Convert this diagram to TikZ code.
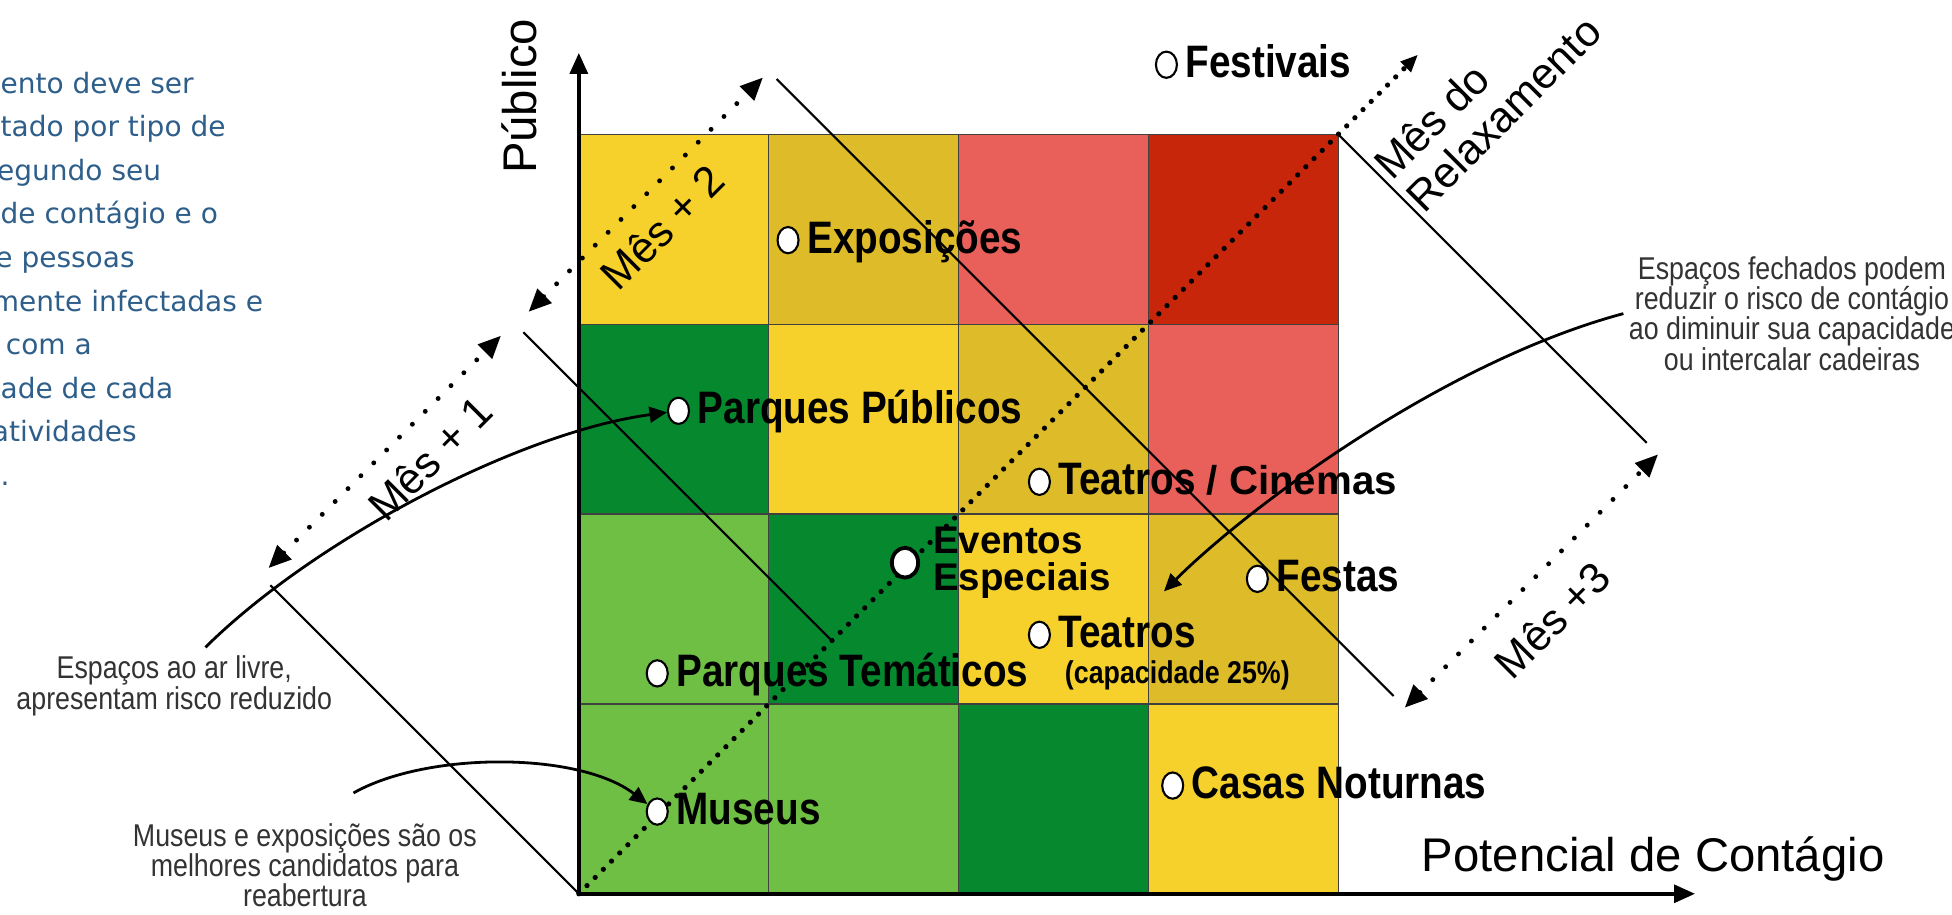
\documentclass[tikz,border=0pt]{standalone}
\usepackage{fontspec}
\setmainfont{Liberation Sans}
\newfontfamily\narrowfont[FakeStretch=0.85]{Liberation Sans}
\newfontfamily\introfont{DejaVu Sans}
\usetikzlibrary{arrows.meta,positioning,shapes.geometric}

\definecolor{cellYellow}{RGB}{246,209,43}
\definecolor{cellOlive}{RGB}{222,188,41}
\definecolor{cellSalmon}{RGB}{233,96,90}
\definecolor{cellRed}{RGB}{200,38,11}
\definecolor{cellDGreen}{RGB}{6,136,47}
\definecolor{cellLGreen}{RGB}{111,191,68}
\definecolor{introBlue}{RGB}{46,94,138}

\begin{document}
\begin{tikzpicture}[x=1.906cm,y=1.906cm,
    spot/.style={ellipse,draw=black,fill=white,line width=0.6pt,minimum width=6pt,minimum height=7.5pt,inner sep=0pt},
    bigspot/.style={spot,line width=1.1pt,minimum width=7.5pt,minimum height=8.5pt},
    lbl/.style={inner sep=0pt,text height=1.4ex,text depth=0pt,font=\narrowfont\bfseries\fontsize{13}{15}\selectfont},
    evlbl/.style={inner sep=0pt,align=left,font=\bfseries\fontsize{11}{10.5}\selectfont},
    capnote/.style={inner sep=0pt,font=\narrowfont\bfseries\fontsize{9}{11}\selectfont},
    mes/.style={inner sep=0pt,font=\fontsize{12.3}{13}\selectfont},
    axlbl/.style={inner sep=0pt,font=\fontsize{13.5}{15}\selectfont},
    note/.style={inner sep=0pt,align=center,text=black!80,font=\narrowfont\fontsize{9}{8.6}\selectfont},
    intro/.style={inner sep=0pt,align=left,text=introBlue,font=\introfont\fontsize{8}{12.45}\selectfont},
    cellline/.style={line width=0.4pt,black!75},
    thinline/.style={line width=0.6pt},
    axis/.style={line width=1.2pt,-{Triangle[length=6pt,width=5pt]}},
    mesarrow/.style={line width=1.4pt,line cap=round,dash pattern=on 0pt off 5.2pt,{Triangle[length=6.5pt,width=5.5pt]}-{Triangle[length=6.5pt,width=5.5pt]}},
    diagline/.style={line width=1.5pt,line cap=round,dash pattern=on 0pt off 3.3pt,-{Triangle[length=5pt,width=4pt]}},
    callout/.style={line width=0.8pt,-{Triangle[length=5pt,width=4.5pt]}}]
    \fill[white] (-3.049,-0.111) rectangle (7.233,4.708);
    \useasboundingbox (-3.049,-0.111) rectangle (7.233,4.708);

    % risk matrix
    \fill[cellYellow] (0,3) rectangle (1,4);
    \fill[cellOlive] (1,3) rectangle (2,4);
    \fill[cellSalmon] (2,3) rectangle (3,4);
    \fill[cellRed] (3,3) rectangle (4,4);
    \fill[cellDGreen] (0,2) rectangle (1,3);
    \fill[cellYellow] (1,2) rectangle (2,3);
    \fill[cellOlive] (2,2) rectangle (3,3);
    \fill[cellSalmon] (3,2) rectangle (4,3);
    \fill[cellLGreen] (0,1) rectangle (1,2);
    \fill[cellDGreen] (1,1) rectangle (2,2);
    \fill[cellYellow] (2,1) rectangle (3,2);
    \fill[cellOlive] (3,1) rectangle (4,2);
    \fill[cellLGreen] (0,0) rectangle (1,1);
    \fill[cellLGreen] (1,0) rectangle (2,1);
    \fill[cellDGreen] (2,0) rectangle (3,1);
    \fill[cellYellow] (3,0) rectangle (4,1);
    \draw[cellline] (0,0) rectangle (4,4);
    \draw[cellline] (1,0) -- (1,4);
    \draw[cellline] (2,0) -- (2,4);
    \draw[cellline] (3,0) -- (3,4);
    \draw[cellline] (0,1) -- (4,1);
    \draw[cellline] (0,2) -- (4,2);
    \draw[cellline] (0,3) -- (4,3);

    \coordinate (o) at (0,0);
    \coordinate (yTip) at (0,4.43);
    \coordinate (xTip) at (5.88,0);
    \coordinate (diagTip) at (4.42,4.42);
    \coordinate (aTop) at (-1.625,1.625);
    \coordinate (bTop) at (-0.292,2.958);
    \coordinate (bEnd) at (1.333,1.333);
    \coordinate (cTop) at (1.042,4.292);
    \coordinate (cEnd) at (4.292,1.042);
    \coordinate (dTop) at (4,4);
    \coordinate (dEnd) at (5.625,2.375);
    \coordinate (m1a) at (-1.635,1.715);
    \coordinate (m1b) at (-0.41,2.94);
    \coordinate (m2a) at (-0.265,3.065);
    \coordinate (m2b) at (0.97,4.30);
    \coordinate (m3a) at (4.35,0.98);
    \coordinate (m3b) at (5.685,2.315);

    % month limits
    \draw[thinline] (aTop) -- (o);
    \draw[thinline] (bTop) -- (bEnd);
    \draw[thinline] (cTop) -- (cEnd);
    \draw[thinline] (dTop) -- (dEnd);
    \draw[diagline] (o) -- (diagTip);
    \draw[mesarrow] (m1a) -- (m1b);
    \draw[mesarrow] (m2a) -- (m2b);
    \draw[mesarrow] (m3a) -- (m3b);
    \node[mes,rotate=45] (mes1) at (-0.785,2.295) {Mês + 1};
    \node[mes,rotate=45] (mes2) at (0.44,3.51) {Mês + 2};
    \node[mes,rotate=45] (mes3) at (5.128,1.443) {Mês +3};
    \node[mes,rotate=45,anchor=west,align=left] (mesR) at (4.31,3.72) {Mês do\\Relaxamento};

    % axes
    \draw[axis] (o) -- (yTip);
    \draw[axis] ([xshift=-0.6pt]o) -- (xTip);
    \node[axlbl,rotate=90] (pubL) at (-0.315,4.2) {Público};
    \node[axlbl] (potL) at (5.659,0.184) {Potencial de Contágio};

    % activities
    \node[spot] (fest) at (3.095,4.367) {};
    \node[lbl,right=2pt of fest] (festT) {Festivais};
    \node[spot] (expo) at (1.102,3.443) {};
    \node[lbl,right=2pt of expo] (expoT) {Exposições};
    \node[spot] (ppub) at (0.525,2.544) {};
    \node[lbl,right=2pt of ppub] (ppubT) {Parques Públicos};
    \node[spot] (teci) at (2.426,2.170) {};
    \node[lbl,right=2pt of teci] (teciT) {Teatros{\normalfont\bfseries\fontsize{11.5}{12}\selectfont\ / Cinemas}};
    \node[bigspot] (even) at (1.718,1.744) {};
    \node[evlbl,right=3.5pt of even] (evenT) {Eventos\\Especiais};
    \node[spot] (fsta) at (3.574,1.659) {};
    \node[lbl,right=2pt of fsta] (fstaT) {Festas};
    \node[spot] (teat) at (2.426,1.364) {};
    \node[lbl,right=2pt of teat] (teatT) {Teatros};
    \node[capnote,anchor=west] (capT) at (2.557,1.148) {(capacidade 25\%)};
    \node[spot] (ptem) at (0.413,1.161) {};
    \node[lbl,right=2pt of ptem] (ptemT) {Parques Temáticos};
    \node[spot] (casa) at (3.128,0.570) {};
    \node[lbl,right=2pt of casa] (casaT) {Casas Noturnas};
    \node[spot] (muse) at (0.413,0.433) {};
    \node[lbl,right=2pt of muse] (museT) {Museus};

    % notes
    \node[note] (noteAr) at (-2.131,1.095) {Espaços ao ar livre,\\apresentam risco reduzido};
    \node[note] (noteMus) at (-1.443,0.151) {Museus e exposições são os\\melhores candidatos para\\reabertura};
    \node[note] (noteFech) at (6.390,3.056) {Espaços fechados podem\\reduzir o risco de contágio\\ao diminuir sua capacidade\\ou intercalar cadeiras};
    \coordinate (arStart) at (-1.967,1.298);
    \coordinate (musStart) at (-1.187,0.531);
    \coordinate (fechStart) at (5.502,3.056);
    \coordinate (fechTip) at (3.082,1.593);
    \draw[callout] (arStart) .. controls (-1.40,1.86) and (-0.32,2.43) .. (ppub);
    \draw[callout] (musStart) .. controls (-0.8,0.75) and (0,0.75) .. (muse);
    \draw[callout] (fechStart) .. controls (4.536,2.797) and (3.506,2.017) .. (fechTip);

    \node[intro,anchor=north west] (intro) at (-3.049,4.333) {ento deve ser\\tado por tipo de\\\hspace*{-1pt}egundo seu\\de contágio e o\\\hspace*{-1.5pt}e pessoas\\\hspace*{-2.5pt}mente infectadas e\\\hspace*{1.5pt}com a\\ade de cada\\\hspace*{-2.5pt}atividades\\.};
\end{tikzpicture}
\end{document}
